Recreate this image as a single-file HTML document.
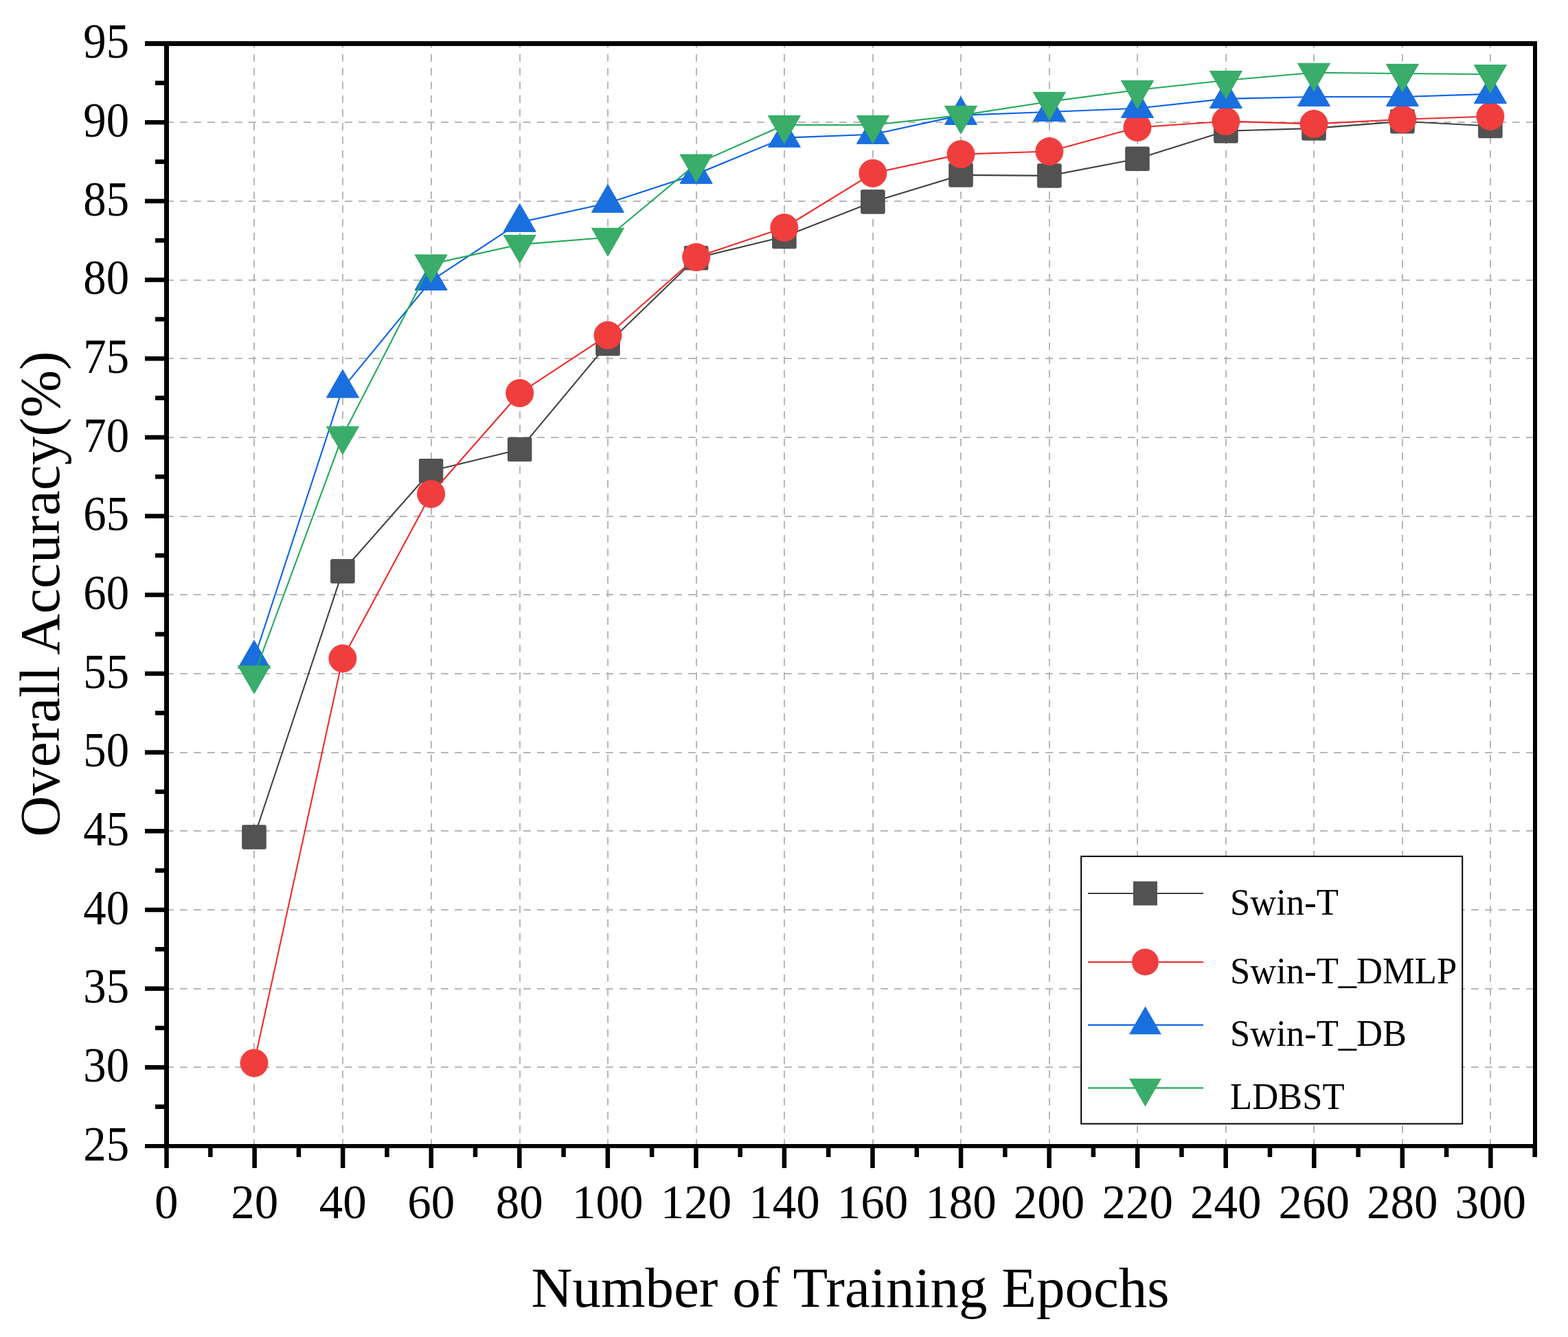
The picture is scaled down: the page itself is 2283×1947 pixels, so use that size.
<!DOCTYPE html><html><head><meta charset="utf-8"><style>html,body{margin:0;padding:0;background:#fff;}svg{display:block;}text{font-family:"Liberation Serif","Times New Roman",serif;fill:#000;}</style></head><body>
<svg width="2283" height="1947" viewBox="0 0 2283 1947">
<rect x="0" y="0" width="2283" height="1947" fill="#fff"/>
<g stroke="#b7b7b7" stroke-width="2" stroke-dasharray="10.7 9.3" fill="none"><line x1="242.08" y1="1554" x2="2232" y2="1554"/><line x1="242.08" y1="1440" x2="2232" y2="1440"/><line x1="242.08" y1="1325" x2="2232" y2="1325"/><line x1="242.08" y1="1210" x2="2232" y2="1210"/><line x1="242.08" y1="1096" x2="2232" y2="1096"/><line x1="242.08" y1="981" x2="2232" y2="981"/><line x1="242.08" y1="866" x2="2232" y2="866"/><line x1="242.08" y1="752" x2="2232" y2="752"/><line x1="242.08" y1="637" x2="2232" y2="637"/><line x1="242.08" y1="522" x2="2232" y2="522"/><line x1="242.08" y1="408" x2="2232" y2="408"/><line x1="242.08" y1="293" x2="2232" y2="293"/><line x1="242.08" y1="178" x2="2232" y2="178"/></g>
<g stroke="#b7b7b7" stroke-width="2" stroke-dasharray="10.7 9.3" fill="none"><line x1="370" y1="1669.8" x2="370" y2="67"/><line x1="499" y1="1669.8" x2="499" y2="67"/><line x1="628" y1="1669.8" x2="628" y2="67"/><line x1="757" y1="1669.8" x2="757" y2="67"/><line x1="885" y1="1669.8" x2="885" y2="67"/><line x1="1014" y1="1669.8" x2="1014" y2="67"/><line x1="1142" y1="1669.8" x2="1142" y2="67"/><line x1="1271" y1="1669.8" x2="1271" y2="67"/><line x1="1399" y1="1669.8" x2="1399" y2="67"/><line x1="1528" y1="1669.8" x2="1528" y2="67"/><line x1="1656" y1="1669.8" x2="1656" y2="67"/><line x1="1785" y1="1669.8" x2="1785" y2="67"/><line x1="1913" y1="1669.8" x2="1913" y2="67"/><line x1="2042" y1="1669.8" x2="2042" y2="67"/><line x1="2170" y1="1669.8" x2="2170" y2="67"/></g>
<polyline points="370.00,1219.00 498.90,831.90 627.60,685.70 756.70,654.40 885.00,500.50 1013.70,375.70 1141.90,344.60 1270.90,293.90 1399.00,254.90 1527.90,255.90 1656.00,231.20 1784.90,190.80 1913.00,186.90 2041.90,176.80 2169.90,183.50" fill="none" stroke="#424242" stroke-width="2.1" stroke-linejoin="round"/><rect x="352.80" y="1201.80" width="34.4" height="34.4" rx="1.5" fill="#525252" stroke="#474747" stroke-width="1"/><rect x="481.70" y="814.70" width="34.4" height="34.4" rx="1.5" fill="#525252" stroke="#474747" stroke-width="1"/><rect x="610.40" y="668.50" width="34.4" height="34.4" rx="1.5" fill="#525252" stroke="#474747" stroke-width="1"/><rect x="739.50" y="637.20" width="34.4" height="34.4" rx="1.5" fill="#525252" stroke="#474747" stroke-width="1"/><rect x="867.80" y="483.30" width="34.4" height="34.4" rx="1.5" fill="#525252" stroke="#474747" stroke-width="1"/><rect x="996.50" y="358.50" width="34.4" height="34.4" rx="1.5" fill="#525252" stroke="#474747" stroke-width="1"/><rect x="1124.70" y="327.40" width="34.4" height="34.4" rx="1.5" fill="#525252" stroke="#474747" stroke-width="1"/><rect x="1253.70" y="276.70" width="34.4" height="34.4" rx="1.5" fill="#525252" stroke="#474747" stroke-width="1"/><rect x="1381.80" y="237.70" width="34.4" height="34.4" rx="1.5" fill="#525252" stroke="#474747" stroke-width="1"/><rect x="1510.70" y="238.70" width="34.4" height="34.4" rx="1.5" fill="#525252" stroke="#474747" stroke-width="1"/><rect x="1638.80" y="214.00" width="34.4" height="34.4" rx="1.5" fill="#525252" stroke="#474747" stroke-width="1"/><rect x="1767.70" y="173.60" width="34.4" height="34.4" rx="1.5" fill="#525252" stroke="#474747" stroke-width="1"/><rect x="1895.80" y="169.70" width="34.4" height="34.4" rx="1.5" fill="#525252" stroke="#474747" stroke-width="1"/><rect x="2024.70" y="159.60" width="34.4" height="34.4" rx="1.5" fill="#525252" stroke="#474747" stroke-width="1"/><rect x="2152.70" y="166.30" width="34.4" height="34.4" rx="1.5" fill="#525252" stroke="#474747" stroke-width="1"/>
<polyline points="370.00,1548.00 498.90,958.90 627.60,719.30 756.70,572.50 885.00,488.20 1013.70,374.50 1141.90,331.50 1270.90,252.30 1399.00,224.60 1527.90,220.50 1656.00,185.50 1784.90,176.60 1913.00,180.40 2041.90,173.80 2169.90,169.50" fill="none" stroke="#f02a2a" stroke-width="2.1" stroke-linejoin="round"/><circle cx="370.00" cy="1548.00" r="20.1" fill="#f03e3e" stroke="#ee3a3a" stroke-width="0.8"/><circle cx="498.90" cy="958.90" r="20.1" fill="#f03e3e" stroke="#ee3a3a" stroke-width="0.8"/><circle cx="627.60" cy="719.30" r="20.1" fill="#f03e3e" stroke="#ee3a3a" stroke-width="0.8"/><circle cx="756.70" cy="572.50" r="20.1" fill="#f03e3e" stroke="#ee3a3a" stroke-width="0.8"/><circle cx="885.00" cy="488.20" r="20.1" fill="#f03e3e" stroke="#ee3a3a" stroke-width="0.8"/><circle cx="1013.70" cy="374.50" r="20.1" fill="#f03e3e" stroke="#ee3a3a" stroke-width="0.8"/><circle cx="1141.90" cy="331.50" r="20.1" fill="#f03e3e" stroke="#ee3a3a" stroke-width="0.8"/><circle cx="1270.90" cy="252.30" r="20.1" fill="#f03e3e" stroke="#ee3a3a" stroke-width="0.8"/><circle cx="1399.00" cy="224.60" r="20.1" fill="#f03e3e" stroke="#ee3a3a" stroke-width="0.8"/><circle cx="1527.90" cy="220.50" r="20.1" fill="#f03e3e" stroke="#ee3a3a" stroke-width="0.8"/><circle cx="1656.00" cy="185.50" r="20.1" fill="#f03e3e" stroke="#ee3a3a" stroke-width="0.8"/><circle cx="1784.90" cy="176.60" r="20.1" fill="#f03e3e" stroke="#ee3a3a" stroke-width="0.8"/><circle cx="1913.00" cy="180.40" r="20.1" fill="#f03e3e" stroke="#ee3a3a" stroke-width="0.8"/><circle cx="2041.90" cy="173.80" r="20.1" fill="#f03e3e" stroke="#ee3a3a" stroke-width="0.8"/><circle cx="2169.90" cy="169.50" r="20.1" fill="#f03e3e" stroke="#ee3a3a" stroke-width="0.8"/>
<polyline points="370.00,959.50 498.90,565.40 627.60,408.90 756.70,323.80 885.00,295.70 1013.70,253.70 1141.90,200.60 1270.90,195.80 1399.00,167.90 1527.90,163.00 1656.00,157.80 1784.90,143.90 1913.00,141.00 2041.90,141.00 2169.90,136.90" fill="none" stroke="#0a62e8" stroke-width="2.1" stroke-linejoin="round"/><polygon points="370.00,932.36 393.50,973.07 346.50,973.07" fill="#1a6fdf" stroke="#1567e2" stroke-width="1" stroke-linejoin="round"/><polygon points="498.90,538.26 522.40,578.97 475.40,578.97" fill="#1a6fdf" stroke="#1567e2" stroke-width="1" stroke-linejoin="round"/><polygon points="627.60,381.76 651.10,422.47 604.10,422.47" fill="#1a6fdf" stroke="#1567e2" stroke-width="1" stroke-linejoin="round"/><polygon points="756.70,296.66 780.20,337.37 733.20,337.37" fill="#1a6fdf" stroke="#1567e2" stroke-width="1" stroke-linejoin="round"/><polygon points="885.00,268.56 908.50,309.27 861.50,309.27" fill="#1a6fdf" stroke="#1567e2" stroke-width="1" stroke-linejoin="round"/><polygon points="1013.70,226.56 1037.20,267.27 990.20,267.27" fill="#1a6fdf" stroke="#1567e2" stroke-width="1" stroke-linejoin="round"/><polygon points="1141.90,173.46 1165.40,214.17 1118.40,214.17" fill="#1a6fdf" stroke="#1567e2" stroke-width="1" stroke-linejoin="round"/><polygon points="1270.90,168.66 1294.40,209.37 1247.40,209.37" fill="#1a6fdf" stroke="#1567e2" stroke-width="1" stroke-linejoin="round"/><polygon points="1399.00,140.76 1422.50,181.47 1375.50,181.47" fill="#1a6fdf" stroke="#1567e2" stroke-width="1" stroke-linejoin="round"/><polygon points="1527.90,135.86 1551.40,176.57 1504.40,176.57" fill="#1a6fdf" stroke="#1567e2" stroke-width="1" stroke-linejoin="round"/><polygon points="1656.00,130.66 1679.50,171.37 1632.50,171.37" fill="#1a6fdf" stroke="#1567e2" stroke-width="1" stroke-linejoin="round"/><polygon points="1784.90,116.76 1808.40,157.47 1761.40,157.47" fill="#1a6fdf" stroke="#1567e2" stroke-width="1" stroke-linejoin="round"/><polygon points="1913.00,113.86 1936.50,154.57 1889.50,154.57" fill="#1a6fdf" stroke="#1567e2" stroke-width="1" stroke-linejoin="round"/><polygon points="2041.90,113.86 2065.40,154.57 2018.40,154.57" fill="#1a6fdf" stroke="#1567e2" stroke-width="1" stroke-linejoin="round"/><polygon points="2169.90,109.76 2193.40,150.47 2146.40,150.47" fill="#1a6fdf" stroke="#1567e2" stroke-width="1" stroke-linejoin="round"/>
<polyline points="370.00,983.00 498.90,634.70 627.60,384.60 756.70,356.00 885.00,345.80 1013.70,238.60 1141.90,182.00 1270.90,182.00 1399.00,167.90 1527.90,147.90 1656.00,131.00 1784.90,117.00 1913.00,105.80 2041.90,107.00 2169.90,108.20" fill="none" stroke="#22a95a" stroke-width="2.1" stroke-linejoin="round"/><polygon points="370.00,1010.14 393.50,969.43 346.50,969.43" fill="#3aad6a" stroke="#2fab62" stroke-width="1" stroke-linejoin="round"/><polygon points="498.90,661.84 522.40,621.13 475.40,621.13" fill="#3aad6a" stroke="#2fab62" stroke-width="1" stroke-linejoin="round"/><polygon points="627.60,411.74 651.10,371.03 604.10,371.03" fill="#3aad6a" stroke="#2fab62" stroke-width="1" stroke-linejoin="round"/><polygon points="756.70,383.14 780.20,342.43 733.20,342.43" fill="#3aad6a" stroke="#2fab62" stroke-width="1" stroke-linejoin="round"/><polygon points="885.00,372.94 908.50,332.23 861.50,332.23" fill="#3aad6a" stroke="#2fab62" stroke-width="1" stroke-linejoin="round"/><polygon points="1013.70,265.74 1037.20,225.03 990.20,225.03" fill="#3aad6a" stroke="#2fab62" stroke-width="1" stroke-linejoin="round"/><polygon points="1141.90,209.14 1165.40,168.43 1118.40,168.43" fill="#3aad6a" stroke="#2fab62" stroke-width="1" stroke-linejoin="round"/><polygon points="1270.90,209.14 1294.40,168.43 1247.40,168.43" fill="#3aad6a" stroke="#2fab62" stroke-width="1" stroke-linejoin="round"/><polygon points="1399.00,195.04 1422.50,154.33 1375.50,154.33" fill="#3aad6a" stroke="#2fab62" stroke-width="1" stroke-linejoin="round"/><polygon points="1527.90,175.04 1551.40,134.33 1504.40,134.33" fill="#3aad6a" stroke="#2fab62" stroke-width="1" stroke-linejoin="round"/><polygon points="1656.00,158.14 1679.50,117.43 1632.50,117.43" fill="#3aad6a" stroke="#2fab62" stroke-width="1" stroke-linejoin="round"/><polygon points="1784.90,144.14 1808.40,103.43 1761.40,103.43" fill="#3aad6a" stroke="#2fab62" stroke-width="1" stroke-linejoin="round"/><polygon points="1913.00,132.94 1936.50,92.23 1889.50,92.23" fill="#3aad6a" stroke="#2fab62" stroke-width="1" stroke-linejoin="round"/><polygon points="2041.90,134.14 2065.40,93.43 2018.40,93.43" fill="#3aad6a" stroke="#2fab62" stroke-width="1" stroke-linejoin="round"/><polygon points="2169.90,135.34 2193.40,94.63 2146.40,94.63" fill="#3aad6a" stroke="#2fab62" stroke-width="1" stroke-linejoin="round"/>
<g fill="#000">
<rect x="239" y="60" width="7" height="1612"/>
<rect x="211" y="60" width="2027" height="7"/>
<rect x="211" y="1666" width="2027" height="6"/>
<rect x="2232" y="60" width="6" height="1625"/>
<rect x="226" y="1608.41" width="15" height="6.5"/>
<rect x="211" y="1551.07" width="30" height="6.5"/>
<rect x="226" y="1493.73" width="15" height="6.5"/>
<rect x="211" y="1436.39" width="30" height="6.5"/>
<rect x="226" y="1379.05" width="15" height="6.5"/>
<rect x="211" y="1321.71" width="30" height="6.5"/>
<rect x="226" y="1264.38" width="15" height="6.5"/>
<rect x="211" y="1207.04" width="30" height="6.5"/>
<rect x="226" y="1149.70" width="15" height="6.5"/>
<rect x="211" y="1092.36" width="30" height="6.5"/>
<rect x="226" y="1035.02" width="15" height="6.5"/>
<rect x="211" y="977.68" width="30" height="6.5"/>
<rect x="226" y="920.34" width="15" height="6.5"/>
<rect x="211" y="863.00" width="30" height="6.5"/>
<rect x="226" y="805.66" width="15" height="6.5"/>
<rect x="211" y="748.32" width="30" height="6.5"/>
<rect x="226" y="690.98" width="15" height="6.5"/>
<rect x="211" y="633.64" width="30" height="6.5"/>
<rect x="226" y="576.30" width="15" height="6.5"/>
<rect x="211" y="518.96" width="30" height="6.5"/>
<rect x="226" y="461.62" width="15" height="6.5"/>
<rect x="211" y="404.29" width="30" height="6.5"/>
<rect x="226" y="346.95" width="15" height="6.5"/>
<rect x="211" y="289.61" width="30" height="6.5"/>
<rect x="226" y="232.27" width="15" height="6.5"/>
<rect x="211" y="174.93" width="30" height="6.5"/>
<rect x="226" y="117.59" width="15" height="6.5"/>
<rect x="239.25" y="1668" width="6.5" height="33"/>
<rect x="303.11" y="1668" width="6.5" height="17"/>
<rect x="367.38" y="1668" width="6.5" height="33"/>
<rect x="431.66" y="1668" width="6.5" height="17"/>
<rect x="495.93" y="1668" width="6.5" height="33"/>
<rect x="560.21" y="1668" width="6.5" height="17"/>
<rect x="624.49" y="1668" width="6.5" height="33"/>
<rect x="688.76" y="1668" width="6.5" height="17"/>
<rect x="753.04" y="1668" width="6.5" height="33"/>
<rect x="817.31" y="1668" width="6.5" height="17"/>
<rect x="881.59" y="1668" width="6.5" height="33"/>
<rect x="945.87" y="1668" width="6.5" height="17"/>
<rect x="1010.14" y="1668" width="6.5" height="33"/>
<rect x="1074.42" y="1668" width="6.5" height="17"/>
<rect x="1138.69" y="1668" width="6.5" height="33"/>
<rect x="1202.97" y="1668" width="6.5" height="17"/>
<rect x="1267.25" y="1668" width="6.5" height="33"/>
<rect x="1331.52" y="1668" width="6.5" height="17"/>
<rect x="1395.80" y="1668" width="6.5" height="33"/>
<rect x="1460.07" y="1668" width="6.5" height="17"/>
<rect x="1524.35" y="1668" width="6.5" height="33"/>
<rect x="1588.63" y="1668" width="6.5" height="17"/>
<rect x="1652.90" y="1668" width="6.5" height="33"/>
<rect x="1717.18" y="1668" width="6.5" height="17"/>
<rect x="1781.45" y="1668" width="6.5" height="33"/>
<rect x="1845.73" y="1668" width="6.5" height="17"/>
<rect x="1910.01" y="1668" width="6.5" height="33"/>
<rect x="1974.28" y="1668" width="6.5" height="17"/>
<rect x="2038.56" y="1668" width="6.5" height="33"/>
<rect x="2102.83" y="1668" width="6.5" height="17"/>
<rect x="2167.11" y="1668" width="6.5" height="33"/>
<rect x="2231.39" y="1668" width="6.5" height="17"/>
</g>
<text transform="translate(188,1689.70) scale(0.94,1)" text-anchor="end" font-size="71">25</text><text transform="translate(188,1575.02) scale(0.94,1)" text-anchor="end" font-size="71">30</text><text transform="translate(188,1460.34) scale(0.94,1)" text-anchor="end" font-size="71">35</text><text transform="translate(188,1345.66) scale(0.94,1)" text-anchor="end" font-size="71">40</text><text transform="translate(188,1230.99) scale(0.94,1)" text-anchor="end" font-size="71">45</text><text transform="translate(188,1116.31) scale(0.94,1)" text-anchor="end" font-size="71">50</text><text transform="translate(188,1001.63) scale(0.94,1)" text-anchor="end" font-size="71">55</text><text transform="translate(188,886.95) scale(0.94,1)" text-anchor="end" font-size="71">60</text><text transform="translate(188,772.27) scale(0.94,1)" text-anchor="end" font-size="71">65</text><text transform="translate(188,657.59) scale(0.94,1)" text-anchor="end" font-size="71">70</text><text transform="translate(188,542.91) scale(0.94,1)" text-anchor="end" font-size="71">75</text><text transform="translate(188,428.24) scale(0.94,1)" text-anchor="end" font-size="71">80</text><text transform="translate(188,313.56) scale(0.94,1)" text-anchor="end" font-size="71">85</text><text transform="translate(188,198.88) scale(0.94,1)" text-anchor="end" font-size="71">90</text><text transform="translate(188,84.20) scale(0.94,1)" text-anchor="end" font-size="71">95</text><text x="242.20" y="1774" text-anchor="middle" font-size="69">0</text><text x="370.63" y="1774" text-anchor="middle" font-size="69">20</text><text x="499.18" y="1774" text-anchor="middle" font-size="69">40</text><text x="627.74" y="1774" text-anchor="middle" font-size="69">60</text><text x="756.29" y="1774" text-anchor="middle" font-size="69">80</text><text x="884.84" y="1774" text-anchor="middle" font-size="69">100</text><text x="1013.39" y="1774" text-anchor="middle" font-size="69">120</text><text x="1141.94" y="1774" text-anchor="middle" font-size="69">140</text><text x="1270.50" y="1774" text-anchor="middle" font-size="69">160</text><text x="1399.05" y="1774" text-anchor="middle" font-size="69">180</text><text x="1527.60" y="1774" text-anchor="middle" font-size="69">200</text><text x="1656.15" y="1774" text-anchor="middle" font-size="69">220</text><text x="1784.70" y="1774" text-anchor="middle" font-size="69">240</text><text x="1913.26" y="1774" text-anchor="middle" font-size="69">260</text><text x="2041.81" y="1774" text-anchor="middle" font-size="69">280</text><text x="2170.36" y="1774" text-anchor="middle" font-size="69">300</text>
<text x="1238" y="1903" text-anchor="middle" font-size="83">Number of Training Epochs</text>
<text transform="translate(86,865) rotate(-90)" text-anchor="middle" font-size="83">Overall Accuracy(%)</text>
<rect x="1574.2" y="1247.1" width="554.9999999999998" height="389.4000000000001" fill="#fff" stroke="#000" stroke-width="2"/>
<line x1="1584" y1="1301" x2="1752" y2="1301" stroke="#424242" stroke-width="2.2"/>
<rect x="1650.0" y="1283.5" width="35" height="35" fill="#525252"/>
<text transform="translate(1791,1332.0) scale(0.948,1)" font-size="55.5">Swin-T</text>
<line x1="1584" y1="1401" x2="1752" y2="1401" stroke="#f02a2a" stroke-width="2.2"/>
<circle cx="1667.5" cy="1401" r="19.5" fill="#f03e3e"/>
<text transform="translate(1791,1431.7) scale(0.948,1)" font-size="55.5">Swin-T_DMLP</text>
<line x1="1584" y1="1492.6" x2="1752" y2="1492.6" stroke="#0a62e8" stroke-width="2.2"/>
<polygon points="1667.50,1465.46 1691.00,1506.17 1644.00,1506.17" fill="#1a6fdf"/>
<text transform="translate(1791,1523.2) scale(0.948,1)" font-size="55.5">Swin-T_DB</text>
<line x1="1584" y1="1584.3" x2="1752" y2="1584.3" stroke="#22a95a" stroke-width="2.2"/>
<polygon points="1667.50,1611.44 1691.00,1570.73 1644.00,1570.73" fill="#3aad6a"/>
<text transform="translate(1791,1615.1) scale(0.948,1)" font-size="55.5">LDBST</text>
</svg></body></html>
